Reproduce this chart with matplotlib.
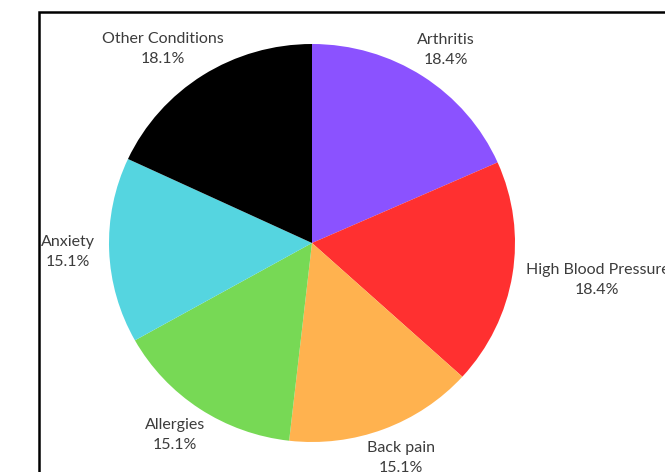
import matplotlib
matplotlib.use("Agg")
import matplotlib.pyplot as plt
import numpy as np
from matplotlib.patches import Rectangle

conditions = ["Arthritis", "High Blood Pressure", "Back pain", "Allergies", "Anxiety", "Other Conditions"]
percentages = [18.4, 18.4, 15.1, 15.1, 15.1, 18.1]
colors = ["#8B52FF", "#FF3030", "#FFB24F", "#77D955", "#55D5E0", "#000000"]

W, H = 665, 472
fig = plt.figure(figsize=(W / 100, H / 100), dpi=100)
fig.patch.set_facecolor("white")

# pie centre and radii in pixels (screenshot slightly squashed vertically)
cx, cy, Rx, Ry = 312, H - 243, 203, 199
k = 1.6
ax = fig.add_axes([(cx - Rx * k) / W, (cy - Ry * k) / H, 2 * Rx * k / W, 2 * Ry * k / H])

wedges, _ = ax.pie(percentages, colors=colors, startangle=90, counterclock=False,
                   radius=1.0, wedgeprops=dict(linewidth=0))
ax.set_xlim(-k, k)
ax.set_ylim(-k, k)
ax.set_aspect("auto")
ax.axis("off")

total = sum(percentages)
renderer = fig.canvas.get_renderer()
r_anchor = 1.07
for w, name, v in zip(wedges, conditions, percentages):
    ang = np.deg2rad((w.theta1 + w.theta2) / 2)
    c, s = np.cos(ang), np.sin(ang)
    label = f"{name}\n{100 * v / total:.1f}%"
    t = ax.text(r_anchor * c, r_anchor * s, label, ha="center", va="center", fontsize=11.5,
                family=["Lato", "DejaVu Sans"], color="#3c3c3c", linespacing=1.55)
    bb = t.get_window_extent(renderer)
    dx = c * bb.width / 2
    dy = s * bb.height / 2
    x0, y0 = ax.transData.transform((r_anchor * c, r_anchor * s))
    t.set_position(ax.transData.inverted().transform((x0 + dx, y0 + dy)))

# screenshot frame
fig.add_artist(Rectangle((39 / W, -0.05), 1.0, (H - 12) / H + 0.05, transform=fig.transFigure,
                         fill=False, edgecolor="black", linewidth=1.8))

fig.savefig("out.png", dpi=100)
